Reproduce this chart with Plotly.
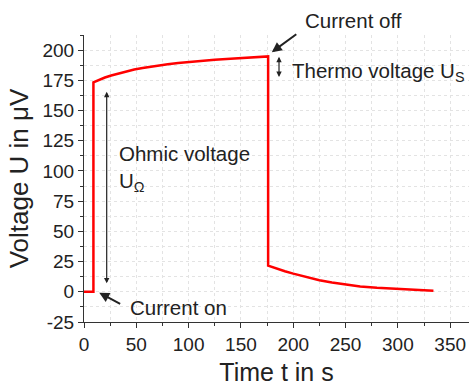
import plotly.graph_objects as go

# Measured signal (time in s, voltage in µV)
time_s = [0, 9,
          9, 15, 20, 26, 32, 40, 48, 56, 64, 72, 80, 90, 100, 112, 125, 140, 155, 168, 176,
          176, 184, 192, 200, 212, 225, 237, 248, 264, 280, 296, 315, 334]
voltage_uv = [0, 0,
              173.3, 175.6, 177.3, 179.0, 180.5, 182.3, 183.9, 185.2, 186.4, 187.4, 188.3, 189.3,
              190.2, 191.1, 192.0, 192.9, 193.7, 194.3, 194.8,
              21.7, 19.2, 17.0, 15.0, 12.2, 9.5, 7.7, 6.3, 4.4, 3.3, 2.5, 1.6, 0.8]

x_ticks = [0, 50, 100, 150, 200, 250, 300, 350]
y_ticks = [-25, 0, 25, 50, 75, 100, 125, 150, 175, 200]
y_tick_text = ["-25", "0", "25", "50", "75", "100", "125", "150", "175", "200"]

FONT = "Liberation Sans, Arial, sans-serif"
TXT = "#222222"

fig = go.Figure()
fig.add_trace(go.Scatter(x=time_s, y=voltage_uv, mode="lines",
                         line=dict(color="#ff0000", width=2.5), showlegend=False))

axis_common = dict(showline=True, linecolor="#333333", linewidth=1.2,
                   ticks="outside", ticklen=5, tickcolor="#333333", tickwidth=1.2,
                   showgrid=False, zeroline=False,
                   tickfont=dict(family=FONT, size=19, color=TXT))

fig.update_xaxes(range=[0, 368], tickvals=x_ticks,
                 minor=dict(dtick=25, tick0=25, ticks="outside", ticklen=3, tickcolor="#333333",
                            showgrid=True, gridcolor="#e3e3e3", griddash="dot", gridwidth=1),
                 title=dict(text="Time t in s", font=dict(family=FONT, size=25, color=TXT), standoff=14),
                 **axis_common)
fig.update_yaxes(range=[-25, 212.5], tickvals=y_ticks, ticktext=y_tick_text,
                 minor=dict(dtick=12.5, tick0=12.5, ticks="outside", ticklen=3, tickcolor="#333333",
                            showgrid=True, gridcolor="#e3e3e3", griddash="dot", gridwidth=1),
                 title=dict(text="Voltage U in μV", font=dict(family=FONT, size=26, color=TXT), standoff=6),
                 **axis_common)

ann_font = dict(family=FONT, size=20.5, color=TXT)

# double arrows
for (xa, y0, y1) in [(21.7, 5.8, 165.5), (186.4, 176.6, 194.5)]:
    fig.add_annotation(x=xa, y=y1, ax=xa, ay=y0, xref="x", yref="y", axref="x", ayref="y",
                       text="", showarrow=True, arrowside="end+start", arrowhead=2,
                       arrowsize=0.9, arrowwidth=1.2, arrowcolor="#222222")

fig.add_annotation(x=32, y=102, xref="x", yref="y", xanchor="left", yanchor="middle", align="left",
                   text="Ohmic voltage<br>U<sub>Ω</sub>", showarrow=False, font=ann_font)
fig.add_annotation(x=197, y=182, xref="x", yref="y", xanchor="left", yanchor="middle",
                   text="Thermo voltage U<sub>S</sub>", showarrow=False, font=ann_font)
fig.add_annotation(x=179.5, y=198.3, ax=26, ay=-19, xref="x", yref="y",
                   text="", showarrow=True, arrowhead=2, arrowsize=1, arrowwidth=2, arrowcolor="#222222")
fig.add_annotation(x=209, y=1.052, xref="x", yref="paper", xanchor="left", yanchor="middle",
                   text="Current off", showarrow=False, font=ann_font)
fig.add_annotation(x=14.6, y=-0.8, ax=36, ay=-10.7, xref="x", yref="y", axref="x", ayref="y",
                   text="", showarrow=True, arrowhead=2, arrowsize=1, arrowwidth=2, arrowcolor="#222222")
fig.add_annotation(x=42, y=-13.2, xref="x", yref="y", xanchor="left", yanchor="middle",
                   text="Current on", showarrow=False, font=ann_font)

fig.update_layout(width=469, height=386, margin=dict(l=84, r=0, t=35, b=64),
                  paper_bgcolor="white", plot_bgcolor="white", showlegend=False)

fig.write_html("out.html")
